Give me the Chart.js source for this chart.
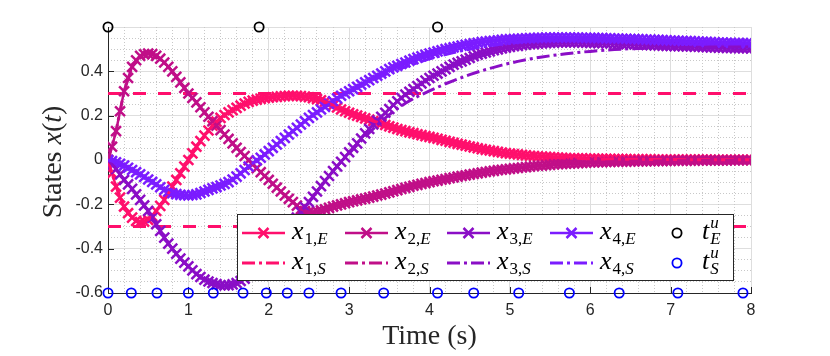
<!DOCTYPE html>
<html>
<head>
<meta charset="utf-8">
<script src="https://cdn.jsdelivr.net/npm/chart.js@4.4.1/dist/chart.umd.min.js"></script>
<style>
  html, body { margin: 0; padding: 0; background: #fff; }
</style>
</head>
<body>
<canvas id="statesChart" width="830" height="356"></canvas>
<script>
// sample times of the event-triggered run (s)
const timeE = [
  0, 0.05, 0.1, 0.15, 0.2, 0.25, 0.3, 0.35, 0.4, 0.45,
  0.5, 0.55, 0.6, 0.65, 0.7, 0.75, 0.8, 0.85, 0.9, 0.95,
  1, 1.05, 1.1, 1.15, 1.2, 1.25, 1.3, 1.35, 1.4, 1.45,
  1.5, 1.55, 1.6, 1.65, 1.7, 1.75, 1.8, 1.85, 1.9, 1.95,
  2, 2.05, 2.1, 2.15, 2.2, 2.25, 2.3, 2.35, 2.4, 2.45,
  2.5, 2.55, 2.6, 2.65, 2.7, 2.75, 2.8, 2.85, 2.9, 2.95,
  3, 3.05, 3.1, 3.15, 3.2, 3.25, 3.3, 3.35, 3.4, 3.45,
  3.5, 3.55, 3.6, 3.65, 3.7, 3.75, 3.8, 3.85, 3.9, 3.95,
  4, 4.05, 4.1, 4.15, 4.2, 4.25, 4.3, 4.35, 4.4, 4.45,
  4.5, 4.55, 4.6, 4.65, 4.7, 4.75, 4.8, 4.85, 4.9, 4.95,
  5, 5.05, 5.1, 5.15, 5.2, 5.25, 5.3, 5.35, 5.4, 5.45,
  5.5, 5.55, 5.6, 5.65, 5.7, 5.75, 5.8, 5.85, 5.9, 5.95,
  6, 6.05, 6.1, 6.15, 6.2, 6.25, 6.3, 6.35, 6.4, 6.45,
  6.5, 6.55, 6.6, 6.65, 6.7, 6.75, 6.8, 6.85, 6.9, 6.95,
  7, 7.05, 7.1, 7.15, 7.2, 7.25, 7.3, 7.35, 7.4, 7.45,
  7.5, 7.55, 7.6, 7.65, 7.7, 7.75, 7.8, 7.85, 7.9, 7.95,
  8
];

// event-triggered states
const x1E = [
  0, -0.06, -0.12, -0.17, -0.21, -0.24, -0.26, -0.275, -0.28, -0.278,
  -0.27, -0.253, -0.23, -0.207, -0.18, -0.15, -0.12, -0.09, -0.06, -0.03,
  0, 0.03, 0.06, 0.085, 0.11, 0.133, 0.155, 0.173, 0.19, 0.203,
  0.215, 0.225, 0.235, 0.245, 0.255, 0.262, 0.268, 0.272, 0.276, 0.279,
  0.281, 0.283, 0.285, 0.287, 0.288, 0.289, 0.29, 0.289, 0.288, 0.286,
  0.283, 0.279, 0.275, 0.269, 0.263, 0.255, 0.246, 0.237, 0.228, 0.22,
  0.213, 0.206, 0.2, 0.194, 0.188, 0.182, 0.176, 0.17, 0.164, 0.158,
  0.152, 0.146, 0.14, 0.135, 0.13, 0.125, 0.121, 0.116, 0.112, 0.108,
  0.104, 0.1, 0.096, 0.091, 0.087, 0.082, 0.078, 0.073, 0.069, 0.065,
  0.061, 0.057, 0.053, 0.049, 0.046, 0.043, 0.04, 0.037, 0.034, 0.031,
  0.029, 0.027, 0.025, 0.023, 0.021, 0.019, 0.018, 0.016, 0.015, 0.014,
  0.013, 0.012, 0.011, 0.01, 0.009, 0.008, 0.008, 0.007, 0.007, 0.006,
  0.006, 0.006, 0.005, 0.005, 0.005, 0.005, 0.004, 0.004, 0.004, 0.004,
  0.003, 0.003, 0.003, 0.003, 0.003, 0.003, 0.002, 0.002, 0.002, 0.002,
  0.002, 0.002, 0.002, 0.002, 0.002, 0.002, 0.002, 0.002, 0.002, 0.002,
  0.001, 0.001, 0.001, 0.001, 0.001, 0.001, 0.001, 0.001, 0.001, 0.001,
  0.001
];
const x2E = [
  0, 0.06, 0.13, 0.22, 0.31, 0.37, 0.42, 0.45, 0.47, 0.477,
  0.48, 0.478, 0.47, 0.457, 0.44, 0.42, 0.4, 0.375, 0.35, 0.325,
  0.3, 0.28, 0.26, 0.238, 0.215, 0.195, 0.175, 0.155, 0.135, 0.115,
  0.095, 0.075, 0.055, 0.036, 0.018, -0.001, -0.02, -0.037, -0.055, -0.072,
  -0.09, -0.107, -0.125, -0.142, -0.16, -0.175, -0.19, -0.206, -0.222, -0.23,
  -0.235, -0.235, -0.232, -0.227, -0.222, -0.216, -0.21, -0.205, -0.2, -0.195,
  -0.19, -0.186, -0.182, -0.178, -0.174, -0.17, -0.165, -0.16, -0.156, -0.151,
  -0.146, -0.141, -0.136, -0.131, -0.126, -0.121, -0.116, -0.112, -0.108, -0.104,
  -0.1, -0.096, -0.093, -0.089, -0.086, -0.082, -0.079, -0.075, -0.072, -0.069,
  -0.066, -0.063, -0.06, -0.057, -0.054, -0.051, -0.049, -0.046, -0.044, -0.042,
  -0.04, -0.038, -0.036, -0.034, -0.032, -0.03, -0.028, -0.026, -0.025, -0.023,
  -0.022, -0.02, -0.019, -0.018, -0.017, -0.016, -0.015, -0.014, -0.013, -0.012,
  -0.011, -0.011, -0.01, -0.01, -0.009, -0.009, -0.008, -0.008, -0.007, -0.007,
  -0.006, -0.006, -0.006, -0.005, -0.005, -0.005, -0.005, -0.004, -0.004, -0.004,
  -0.004, -0.003, -0.003, -0.003, -0.003, -0.003, -0.003, -0.002, -0.002, -0.002,
  -0.002, -0.002, -0.002, -0.002, -0.002, -0.001, -0.001, -0.001, -0.001, -0.001,
  -0.001
];
const x3E = [
  0, -0.02, -0.04, -0.065, -0.09, -0.11, -0.13, -0.155, -0.18, -0.205,
  -0.23, -0.26, -0.29, -0.32, -0.35, -0.377, -0.4, -0.423, -0.445, -0.463,
  -0.48, -0.498, -0.515, -0.528, -0.54, -0.548, -0.555, -0.56, -0.565, -0.566,
  -0.565, -0.561, -0.555, -0.546, -0.535, -0.521, -0.505, -0.488, -0.47, -0.45,
  -0.43, -0.408, -0.385, -0.36, -0.335, -0.31, -0.285, -0.26, -0.235, -0.212,
  -0.19, -0.166, -0.142, -0.118, -0.095, -0.072, -0.05, -0.029, -0.008, 0.013,
  0.035, 0.055, 0.075, 0.097, 0.12, 0.14, 0.16, 0.178, 0.195, 0.213,
  0.23, 0.248, 0.265, 0.28, 0.295, 0.308, 0.32, 0.333, 0.345, 0.358,
  0.37, 0.38, 0.39, 0.4, 0.41, 0.42, 0.43, 0.438, 0.445, 0.453,
  0.46, 0.468, 0.475, 0.48, 0.485, 0.49, 0.495, 0.499, 0.503, 0.507,
  0.51, 0.513, 0.515, 0.518, 0.52, 0.522, 0.523, 0.525, 0.526, 0.527,
  0.528, 0.529, 0.53, 0.53, 0.53, 0.53, 0.53, 0.53, 0.529, 0.529,
  0.528, 0.528, 0.527, 0.527, 0.526, 0.526, 0.525, 0.524, 0.523, 0.523,
  0.522, 0.521, 0.52, 0.52, 0.519, 0.518, 0.517, 0.517, 0.516, 0.515,
  0.515, 0.514, 0.513, 0.513, 0.512, 0.512, 0.511, 0.511, 0.51, 0.509,
  0.508, 0.508, 0.507, 0.507, 0.506, 0.506, 0.505, 0.505, 0.504, 0.504,
  0.503
];
const x4E = [
  0, -0.005, -0.01, -0.017, -0.025, -0.035, -0.045, -0.055, -0.065, -0.076,
  -0.088, -0.099, -0.11, -0.123, -0.135, -0.143, -0.15, -0.154, -0.157, -0.159,
  -0.16, -0.158, -0.155, -0.149, -0.142, -0.135, -0.128, -0.122, -0.115, -0.108,
  -0.1, -0.088, -0.075, -0.06, -0.045, -0.03, -0.015, -0.002, 0.01, 0.025,
  0.04, 0.055, 0.07, 0.085, 0.1, 0.115, 0.13, 0.145, 0.16, 0.175,
  0.19, 0.203, 0.215, 0.228, 0.24, 0.253, 0.265, 0.278, 0.29, 0.3,
  0.31, 0.32, 0.33, 0.34, 0.35, 0.36, 0.37, 0.38, 0.39, 0.4,
  0.41, 0.418, 0.425, 0.433, 0.44, 0.448, 0.455, 0.462, 0.468, 0.474,
  0.48, 0.485, 0.49, 0.495, 0.5, 0.504, 0.508, 0.512, 0.516, 0.52,
  0.523, 0.526, 0.529, 0.532, 0.534, 0.536, 0.538, 0.54, 0.542, 0.544,
  0.545, 0.546, 0.547, 0.548, 0.549, 0.55, 0.55, 0.551, 0.551, 0.552,
  0.552, 0.552, 0.552, 0.552, 0.552, 0.552, 0.552, 0.552, 0.551, 0.551,
  0.551, 0.551, 0.55, 0.55, 0.549, 0.549, 0.548, 0.548, 0.547, 0.547,
  0.546, 0.546, 0.545, 0.544, 0.543, 0.543, 0.542, 0.542, 0.541, 0.54,
  0.539, 0.539, 0.538, 0.537, 0.536, 0.536, 0.535, 0.534, 0.533, 0.533,
  0.532, 0.531, 0.53, 0.53, 0.529, 0.529, 0.528, 0.528, 0.527, 0.527,
  0.526
];

// sample times of the sampled-data run (s)
const timeS = [
  0, 0.1, 0.2, 0.3, 0.4, 0.5, 0.6, 0.7, 0.8, 0.9,
  1, 1.1, 1.2, 1.3, 1.4, 1.5, 1.6, 1.7, 1.8, 1.9,
  2, 2.1, 2.2, 2.3, 2.4, 2.5, 2.6, 2.7, 2.8, 2.9,
  3, 3.1, 3.2, 3.3, 3.4, 3.5, 3.6, 3.7, 3.8, 3.9,
  4, 4.1, 4.2, 4.3, 4.4, 4.5, 4.6, 4.7, 4.8, 4.9,
  5, 5.1, 5.2, 5.3, 5.4, 5.5, 5.6, 5.7, 5.8, 5.9,
  6, 6.1, 6.2, 6.3, 6.4, 6.5, 6.6, 6.7, 6.8, 6.9,
  7, 7.1, 7.2, 7.3, 7.4, 7.5, 7.6, 7.7, 7.8, 7.9,
  8
];

// sampled-data states
const x1S = [
  0, -0.12, -0.21, -0.26, -0.28, -0.27, -0.23, -0.18, -0.12, -0.06,
  0, 0.06, 0.11, 0.155, 0.19, 0.215, 0.235, 0.255, 0.268, 0.276,
  0.281, 0.285, 0.288, 0.29, 0.288, 0.283, 0.275, 0.263, 0.246, 0.228,
  0.213, 0.2, 0.188, 0.176, 0.164, 0.152, 0.14, 0.13, 0.121, 0.112,
  0.104, 0.096, 0.087, 0.078, 0.069, 0.061, 0.053, 0.046, 0.04, 0.034,
  0.029, 0.025, 0.021, 0.018, 0.015, 0.013, 0.011, 0.009, 0.008, 0.007,
  0.006, 0.005, 0.005, 0.004, 0.004, 0.003, 0.003, 0.003, 0.002, 0.002,
  0.002, 0.002, 0.001, 0.001, 0.001, 0.001, 0.001, 0.001, 0.001, 0.001,
  0.001
];
const x2S = [
  0, 0.13, 0.31, 0.42, 0.47, 0.48, 0.47, 0.44, 0.4, 0.35,
  0.3, 0.26, 0.215, 0.175, 0.135, 0.095, 0.055, 0.018, -0.02, -0.055,
  -0.09, -0.125, -0.16, -0.19, -0.222, -0.235, -0.232, -0.222, -0.21, -0.2,
  -0.19, -0.182, -0.174, -0.165, -0.156, -0.146, -0.136, -0.126, -0.116, -0.108,
  -0.1, -0.093, -0.086, -0.079, -0.072, -0.066, -0.06, -0.054, -0.049, -0.044,
  -0.04, -0.036, -0.032, -0.028, -0.025, -0.022, -0.019, -0.017, -0.015, -0.013,
  -0.011, -0.01, -0.009, -0.008, -0.007, -0.006, -0.006, -0.005, -0.005, -0.004,
  -0.004, -0.003, -0.003, -0.003, -0.002, -0.002, -0.002, -0.002, -0.001, -0.001,
  -0.001
];
const x3S = [
  0, -0.04, -0.09, -0.13, -0.18, -0.23, -0.29, -0.35, -0.4, -0.445,
  -0.48, -0.515, -0.54, -0.555, -0.565, -0.565, -0.555, -0.535, -0.505, -0.47,
  -0.43, -0.385, -0.335, -0.285, -0.235, -0.19, -0.142, -0.095, -0.05, -0.008,
  0.03, 0.068, 0.105, 0.14, 0.175, 0.205, 0.232, 0.256, 0.277, 0.295,
  0.312, 0.328, 0.344, 0.358, 0.372, 0.385, 0.397, 0.408, 0.418, 0.428,
  0.437, 0.445, 0.452, 0.459, 0.465, 0.47, 0.475, 0.479, 0.483, 0.487,
  0.49, 0.493, 0.496, 0.498, 0.5, 0.502, 0.503, 0.504, 0.505, 0.506,
  0.507, 0.508, 0.508, 0.509, 0.509, 0.51, 0.51, 0.51, 0.51, 0.51,
  0.51
];
const x4S = [
  0, -0.01, -0.025, -0.045, -0.065, -0.088, -0.11, -0.135, -0.15, -0.157,
  -0.16, -0.155, -0.142, -0.128, -0.115, -0.1, -0.075, -0.045, -0.015, 0.01,
  0.04, 0.07, 0.1, 0.13, 0.16, 0.19, 0.215, 0.24, 0.265, 0.29,
  0.31, 0.325, 0.343, 0.36, 0.377, 0.393, 0.407, 0.42, 0.433, 0.445,
  0.456, 0.466, 0.476, 0.485, 0.493, 0.5, 0.507, 0.513, 0.518, 0.523,
  0.527, 0.531, 0.534, 0.537, 0.539, 0.541, 0.542, 0.543, 0.544, 0.544,
  0.544, 0.544, 0.543, 0.543, 0.542, 0.541, 0.54, 0.539, 0.538, 0.537,
  0.536, 0.535, 0.534, 0.533, 0.532, 0.531, 0.53, 0.529, 0.528, 0.527,
  0.526
];

// update instants
const tEventE = [0, 1.88, 4.1];
const tEventS = [0, 0.29, 0.61, 1.0, 1.31, 1.68, 1.97, 2.23, 2.5, 2.9, 3.43, 4.1, 4.55, 5.11, 5.74, 6.36, 7.09, 7.9];
const eventLevelE = 0.6;
const eventLevelS = -0.6;

// bounds on x1
const bounds = [0.3, -0.3];

const xTicks = [0, 1, 2, 3, 4, 5, 6, 7, 8];
const yTicks = [-0.6, -0.4, -0.2, 0, 0.2, 0.4];

const colors = ["#ff0f6c", "#c00f88", "#8a0ec6", "#7b1cff"];
const axisColor = "#262626";
const serif = '"Liberation Serif", "Times New Roman", serif';

const pts = (times, vals) => times.map((t, i) => ({ x: t, y: vals[i] }));

function eSet(label, vals, color, order) {
  return {
    label, data: pts(timeE, vals), xAxisID: "x", yAxisID: "y",
    borderColor: color, backgroundColor: color, borderWidth: 2.5,
    pointStyle: "crossRot", pointRadius: 7, pointBorderWidth: 2.5,
    pointBorderColor: color, tension: 0, order,
  };
}
function sSet(label, vals, color, order) {
  return {
    label, data: pts(timeS, vals), xAxisID: "x", yAxisID: "y",
    borderColor: color, borderWidth: 3, borderDash: [13, 4, 3, 4],
    pointRadius: 0, tension: 0, order,
  };
}
function eventSet(label, times, level, color, order) {
  return {
    label, data: times.map((t) => ({ x: t, y: level })), xAxisID: "x", yAxisID: "y",
    showLine: false, pointStyle: "circle", pointRadius: 4.6,
    pointBorderWidth: 1.8, pointBorderColor: color, pointBackgroundColor: "rgba(0,0,0,0)",
    clip: false, order,
  };
}
function boundSet(level, order) {
  return {
    label: "bound", data: [{ x: 0, y: level }, { x: 8, y: level }], xAxisID: "x", yAxisID: "y",
    borderColor: colors[0], borderWidth: 3, borderDash: [13, 12], pointRadius: 0, order,
  };
}

const isMult = (v, step) => Math.abs(v / step - Math.round(v / step)) < 1e-6;

// inward tick marks, MATLAB style
const inwardTicks = {
  id: "inwardTicks",
  beforeDatasetsDraw(chart) {
    const { ctx, chartArea: a, scales: { x, y } } = chart;
    ctx.save();
    ctx.strokeStyle = axisColor;
    ctx.lineWidth = 1;
    ctx.beginPath();
    xTicks.forEach((v) => {
      const px = Math.round(x.getPixelForValue(v)) + 0.5;
      ctx.moveTo(px, a.bottom);
      ctx.lineTo(px, a.bottom - 6);
    });
    yTicks.forEach((v) => {
      const py = Math.round(y.getPixelForValue(v)) + 0.5;
      ctx.moveTo(a.left, py);
      ctx.lineTo(a.left + 6, py);
    });
    ctx.stroke();
    ctx.restore();
  },
};

// y title with italic math part
const yTitle = {
  id: "yTitle",
  afterDraw(chart) {
    const { ctx } = chart;
    const segs = [["States ", false], ["x", true], ["(", false], ["t", true], [")", false]];
    const f = (it) => (it ? "italic " : "") + "28px " + serif;
    ctx.save();
    ctx.translate(61, 162);
    ctx.rotate(-Math.PI / 2);
    ctx.fillStyle = axisColor;
    ctx.textAlign = "left";
    ctx.textBaseline = "alphabetic";
    let total = 0;
    segs.forEach(([s, it]) => { ctx.font = f(it); total += ctx.measureText(s).width; });
    let cx = -total / 2;
    segs.forEach(([s, it]) => { ctx.font = f(it); ctx.fillText(s, cx, 0); cx += ctx.measureText(s).width; });
    ctx.restore();
  },
};

function drawMath(ctx, x, base, main, sub, sup) {
  ctx.fillStyle = "#000";
  ctx.textAlign = "left";
  ctx.textBaseline = "alphabetic";
  ctx.font = "italic 26px " + serif;
  ctx.fillText(main, x, base);
  const w = ctx.measureText(main).width;
  let sx = x + w + 1;
  sub.forEach(([s, it]) => {
    ctx.font = (it ? "italic " : "") + "17px " + serif;
    ctx.fillText(s, sx, base + 5);
    sx += ctx.measureText(s).width;
  });
  if (sup) {
    ctx.font = "italic 17px " + serif;
    ctx.fillText(sup, x + w + 1, base - 11);
  }
}

// boxed legend inside the axes, 2 rows x 5 columns
const boxLegend = {
  id: "boxLegend",
  afterDraw(chart) {
    const { ctx } = chart;
    ctx.save();
    ctx.fillStyle = "#fff";
    ctx.fillRect(237, 214, 496, 66);
    ctx.strokeStyle = axisColor;
    ctx.lineWidth = 1;
    ctx.strokeRect(237.5, 214.5, 496, 66);

    const colX = [242, 345, 447, 550];
    const rowY = [233, 263];
    const kinds = ["E", "S"];
    rowY.forEach((ry, r) => {
      colX.forEach((cx, i) => {
        const c = colors[i];
        ctx.strokeStyle = c;
        ctx.lineWidth = r === 0 ? 2.5 : 3;
        ctx.setLineDash(r === 0 ? [] : [13, 4, 3, 4]);
        ctx.beginPath();
        ctx.moveTo(cx, ry);
        ctx.lineTo(cx + 43, ry);
        ctx.stroke();
        ctx.setLineDash([]);
        if (r === 0) {
          const m = 5;
          const mx = cx + 21.5;
          ctx.beginPath();
          ctx.moveTo(mx - m, ry - m); ctx.lineTo(mx + m, ry + m);
          ctx.moveTo(mx - m, ry + m); ctx.lineTo(mx + m, ry - m);
          ctx.stroke();
        }
        drawMath(ctx, cx + 50, ry + 6, "x", [[String(i + 1) + ",", false], [kinds[r], true]]);
      });
      ctx.strokeStyle = r === 0 ? "#000" : "#0000ff";
      ctx.lineWidth = 1.8;
      ctx.beginPath();
      ctx.arc(677, ry, 4.6, 0, Math.PI * 2);
      ctx.stroke();
      drawMath(ctx, 702, ry + 6, "t", [[kinds[r], true]], "u");
    });
    ctx.restore();
  },
};

new Chart(document.getElementById("statesChart").getContext("2d"), {
  type: "line",
  data: {
    datasets: [
      boundSet(bounds[0], 20),
      boundSet(bounds[1], 21),
      eventSet("t_S^u", tEventS, eventLevelS, "#0000ff", 2),
      sSet("x_{4,S}", x4S, colors[3], 3),
      sSet("x_{3,S}", x3S, colors[2], 4),
      sSet("x_{2,S}", x2S, colors[1], 5),
      sSet("x_{1,S}", x1S, colors[0], 6),
      eventSet("t_E^u", tEventE, eventLevelE, "#000000", 7),
      eSet("x_{4,E}", x4E, colors[3], 8),
      eSet("x_{3,E}", x3E, colors[2], 9),
      eSet("x_{2,E}", x2E, colors[1], 10),
      eSet("x_{1,E}", x1E, colors[0], 11),
    ],
  },
  options: {
    responsive: false,
    animation: false,
    devicePixelRatio: 1,
    layout: { padding: { top: 27, right: 79, bottom: 0, left: 0 } },
    plugins: { legend: { display: false }, tooltip: { enabled: false } },
    scales: {
      x: {
        type: "linear", axis: "x", position: "bottom", min: 0, max: 8,
        afterBuildTicks: (s) => { s.ticks = xTicks.map((v) => ({ value: v })); },
        ticks: {
          color: axisColor, padding: 8, maxRotation: 0,
          font: { family: '"Liberation Sans", Arial, sans-serif', size: 16 },
          callback: (v) => String(v),
        },
        grid: { color: "#dedede", lineWidth: 1, drawTicks: false },
        border: { display: true, color: axisColor, width: 1 },
        title: {
          display: true, text: "Time (s)", color: axisColor,
          font: { family: serif, size: 28 }, padding: { top: 0, bottom: 3 },
        },
        afterFit: (s) => { s.height = 63; },
      },
      y: {
        type: "linear", axis: "y", position: "left", min: -0.6, max: 0.6,
        afterBuildTicks: (s) => { s.ticks = yTicks.concat([0.6]).map((v) => ({ value: v })); },
        ticks: {
          color: axisColor, padding: 5,
          font: { family: '"Liberation Sans", Arial, sans-serif', size: 16 },
          callback: (v) => (Math.abs(v - 0.6) < 1e-9 ? "" : Math.abs(v) < 1e-9 ? "0" : v.toFixed(1)),
        },
        grid: { color: "#dedede", lineWidth: 1, drawTicks: false },
        border: { display: true, color: axisColor, width: 1 },
        afterFit: (s) => { s.width = 108; },
      },
      xMinor: {
        type: "linear", axis: "x", position: "bottom", min: 0, max: 8,
        ticks: { display: false, stepSize: 0.2 },
        grid: {
          drawTicks: false, lineWidth: 1,
          color: (c) => (isMult(c.tick.value, 1) ? "rgba(0,0,0,0)" : "#c8c8c8"),
        },
        border: { display: false, dash: [1, 2] },
        afterFit: (s) => { s.height = 0; },
      },
      yMinor: {
        type: "linear", axis: "y", position: "left", min: -0.6, max: 0.6,
        ticks: { display: false, stepSize: 0.05 },
        grid: {
          drawTicks: false, lineWidth: 1,
          color: (c) => (isMult(c.tick.value, 0.2) ? "rgba(0,0,0,0)" : "#c8c8c8"),
        },
        border: { display: false, dash: [1, 2] },
        afterFit: (s) => { s.width = 0; },
      },
    },
  },
  plugins: [inwardTicks, yTitle, boxLegend],
});
</script>
</body>
</html>
